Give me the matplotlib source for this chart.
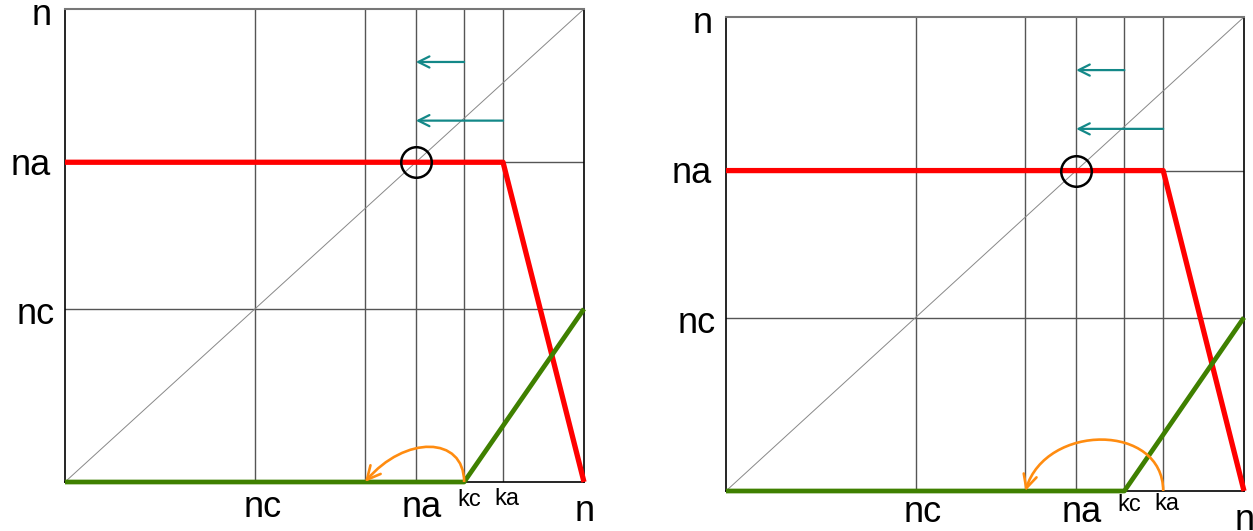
import matplotlib.pyplot as plt
from matplotlib.patches import FancyArrowPatch
from matplotlib.path import Path

plt.rcParams['font.family'] = ['Liberation Sans', 'DejaVu Sans']

# positions on both axes (fraction of n)
n = 1.0
nc = 0.366
nb = 0.578   # unlabelled vertical line
na = 0.676
kc = 0.769
ka = 0.844

red_x = [0, ka, n]
red_y = [na, na, 0]
green_x = [0, kc, n]
green_y = [0, 0, nc]

teal_y = [0.888, 0.764]
teal_start = [kc, ka]

# orange jump: start, end, height, skew for each panel
arcs = [(kc, nb, 0.074, 0.4), (ka, nb, 0.108, 0.15)]

# label positions (x, y) in data units
side_labels = [('n', -0.045, 0.966), ('na', -0.066, 0.649), ('nc', -0.057, 0.334)]
bottom_labels = [('nc', 0.38, -0.074, 26), ('na', 0.687, -0.074, 26),
                 ('kc', 0.778, -0.051, 17), ('ka', 0.851, -0.049, 17),
                 ('n', 1.001, -0.082, 26)]


def draw_panel(ax, arc, lift):
    ax.set_xlim(0, n)
    ax.set_ylim(0, n)
    ax.set_xticks([])
    ax.set_yticks([])
    for side in ['left', 'right', 'bottom']:
        ax.spines[side].set_color('black')
        ax.spines[side].set_linewidth(1.2)
    ax.spines['top'].set_color('#777777')
    ax.spines['top'].set_linewidth(1.5)

    # grid lines
    for x in [nc, nb, na, kc, ka]:
        ax.axvline(x, color='#555555', lw=1.0, zorder=1)
    for y in [nc, na]:
        ax.axhline(y, color='#555555', lw=1.0, zorder=1)
    ax.plot([0, n], [0, n], color='#888888', lw=0.7, zorder=1)

    ax.plot(red_x, red_y, color='#ff0000', lw=3.8, zorder=3,
            solid_capstyle='butt', clip_on=False)
    ax.plot(green_x, green_y, color='#3f8000', lw=3.4, zorder=3,
            solid_capstyle='butt', clip_on=False)

    ax.plot(na, na, 'o', mfc='none', mec='black', ms=22, mew=1.8, zorder=4)

    for y, x0 in zip(teal_y, teal_start):
        ax.annotate('', xy=(na, y), xytext=(x0, y),
                    arrowprops=dict(arrowstyle='->', color='#138888', lw=1.6,
                                    mutation_scale=20, shrinkA=0, shrinkB=0))

    s, e, h, f = arc
    verts = [(s, 0.0), (s, 1.33 * h), (e + f * (s - e), 1.33 * h), (e, 0.0)]
    codes = [Path.MOVETO, Path.CURVE4, Path.CURVE4, Path.CURVE4]
    ax.add_patch(FancyArrowPatch(path=Path(verts, codes),
                                 arrowstyle='->', mutation_scale=24,
                                 color='#ff8c10', lw=1.9, zorder=5))

    for txt, x, y in side_labels:
        ax.text(x, y, txt, fontsize=26, ha='center', va='baseline', clip_on=False)
    for txt, x, y, fs in bottom_labels:
        dy = lift if txt != 'n' else 0
        ax.text(x, y + dy, txt, fontsize=fs, ha='center', va='baseline', clip_on=False)


fig = plt.figure(figsize=(12.53, 5.31), dpi=100)
ax1 = fig.add_axes([65 / 1253, 49 / 531, 519 / 1253, 473 / 531])
ax2 = fig.add_axes([726 / 1253, 40 / 531, 518 / 1253, 474 / 531])

draw_panel(ax1, arcs[0], 0.0)
draw_panel(ax2, arcs[1], 0.008)

plt.savefig('out.png', dpi=100)
